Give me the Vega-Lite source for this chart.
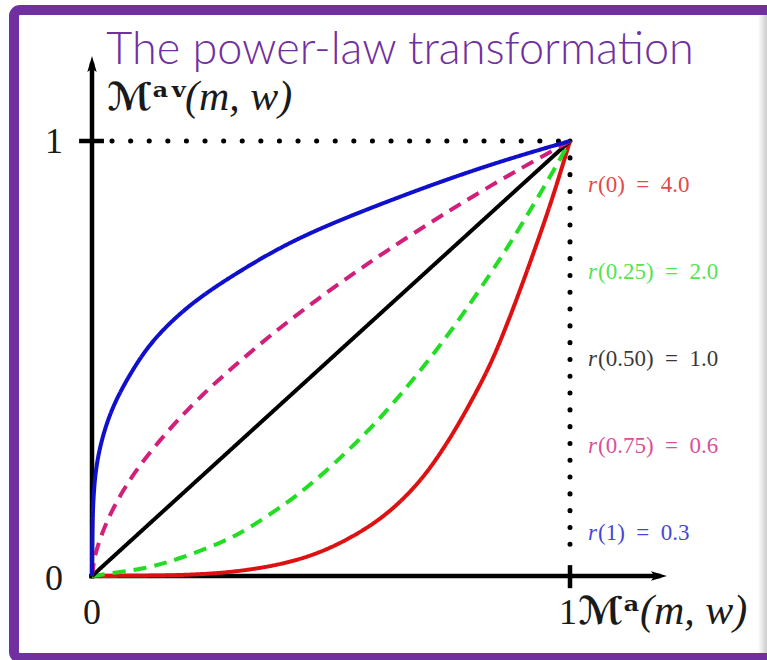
{
  "$schema": "https://vega.github.io/schema/vega-lite/v6.json",
  "width": 767,
  "height": 660,
  "autosize": {"type": "fit", "contains": "padding"},
  "padding": 0,
  "background": "white",
  "config": {"view": {"stroke": null}},
  "encoding": {
    "x": {"field": "x", "type": "quantitative", "scale": {"domain": [-0.192469, 1.412134], "nice": false, "zero": false}, "axis": null},
    "y": {"field": "y", "type": "quantitative", "scale": {"domain": [-0.193103, 1.324138], "nice": false, "zero": false}, "axis": null}
  },
  "layer": [
    {
      "data": {"values": [{"x": 1.3933, "x2": 1.4121, "y": 1.2897, "y2": -0.1816}]},
      "mark": {"type": "rect", "fill": {"gradient": "linear", "x1": 0, "y1": 0, "x2": 1, "y2": 0, "stops": [{"offset": 0, "color": "#ffffff"}, {"offset": 1, "color": "#cccccc"}]}},
      "encoding": {"x2": {"field": "x2"}, "y2": {"field": "y2"}}
    },
    {
      "data": {"values": [{"x": -0.16318, "x2": 1.6, "y": 1.30115, "y2": -0.18851}]},
      "mark": {"type": "rect", "filled": false, "stroke": "#7030A0", "strokeWidth": 10, "cornerRadius": 6, "clip": true},
      "encoding": {"x2": {"field": "x2"}, "y2": {"field": "y2"}}
    },
    {
      "data": {"values": [{"x": 0.0418, "x2": 1, "y": 1, "y2": 1}]},
      "mark": {"type": "rule", "color": "black", "strokeWidth": 5, "strokeCap": "round", "strokeDash": [0.1, 18.5]},
      "encoding": {"x2": {"field": "x2"}, "y2": {"field": "y2"}}
    },
    {
      "data": {"values": [{"x": 1, "x2": 1, "y": 1, "y2": 0.04}]},
      "mark": {"type": "rule", "color": "black", "strokeWidth": 5, "strokeCap": "round", "strokeDash": [0.1, 16.7]},
      "encoding": {"x2": {"field": "x2"}, "y2": {"field": "y2"}}
    },
    {
      "data": {"values": [
        {"x": 0, "x2": 0, "y": -0.006, "y2": 1.18},
        {"x": -0.006, "x2": 1.19, "y": 0, "y2": 0},
        {"x": -0.027, "x2": 0.025, "y": 1, "y2": 1},
        {"x": 1, "x2": 1, "y": 0.025, "y2": -0.028}
      ]},
      "mark": {"type": "rule", "color": "black", "strokeWidth": 4.5},
      "encoding": {"x2": {"field": "x2"}, "y2": {"field": "y2"}}
    },
    {
      "data": {"values": [{"x": 0, "y": 1.1738}]},
      "mark": {"type": "point", "filled": true, "color": "black", "opacity": 1, "size": 350, "shape": "M0,-1L0.5,0.7L0,0.35L-0.5,0.7Z"}
    },
    {
      "data": {"values": [{"x": 1.1833, "y": 0}]},
      "mark": {"type": "point", "filled": true, "color": "black", "opacity": 1, "size": 350, "angle": 90, "shape": "M0,-1L0.5,0.7L0,0.35L-0.5,0.7Z"}
    },
    {
      "data": {"values": [
        {"s": "r4", "x": 0, "y": 0}, {"s": "r4", "x": 0.1, "y": 0.0005}, {"s": "r4", "x": 0.2, "y": 0.002}, {"s": "r4", "x": 0.3, "y": 0.009},
        {"s": "r4", "x": 0.4, "y": 0.027}, {"s": "r4", "x": 0.477, "y": 0.053}, {"s": "r4", "x": 0.546, "y": 0.09}, {"s": "r4", "x": 0.617, "y": 0.14},
        {"s": "r4", "x": 0.686, "y": 0.215}, {"s": "r4", "x": 0.734, "y": 0.29}, {"s": "r4", "x": 0.77, "y": 0.355}, {"s": "r4", "x": 0.805, "y": 0.425},
        {"s": "r4", "x": 0.833, "y": 0.485}, {"s": "r4", "x": 0.86, "y": 0.555}, {"s": "r4", "x": 0.895, "y": 0.655}, {"s": "r4", "x": 0.931, "y": 0.765},
        {"s": "r4", "x": 0.964, "y": 0.87}, {"s": "r4", "x": 1, "y": 1},
        {"s": "r2", "x": 0, "y": 0}, {"s": "r2", "x": 0.017, "y": 0.003}, {"s": "r2", "x": 0.115, "y": 0.017}, {"s": "r2", "x": 0.184, "y": 0.04},
        {"s": "r2", "x": 0.274, "y": 0.078}, {"s": "r2", "x": 0.324, "y": 0.106}, {"s": "r2", "x": 0.408, "y": 0.168}, {"s": "r2", "x": 0.462, "y": 0.214},
        {"s": "r2", "x": 0.533, "y": 0.285}, {"s": "r2", "x": 0.575, "y": 0.331}, {"s": "r2", "x": 0.609, "y": 0.371}, {"s": "r2", "x": 0.644, "y": 0.415},
        {"s": "r2", "x": 0.672, "y": 0.452}, {"s": "r2", "x": 0.707, "y": 0.5}, {"s": "r2", "x": 0.743, "y": 0.552}, {"s": "r2", "x": 0.776, "y": 0.602},
        {"s": "r2", "x": 0.833, "y": 0.694}, {"s": "r2", "x": 0.868, "y": 0.753}, {"s": "r2", "x": 0.902, "y": 0.814}, {"s": "r2", "x": 0.937, "y": 0.878},
        {"s": "r2", "x": 0.979, "y": 0.958}, {"s": "r2", "x": 1, "y": 1},
        {"s": "r1", "x": 0, "y": 0}, {"s": "r1", "x": 1, "y": 1},
        {"s": "r06", "x": 0, "y": 0}, {"s": "r06", "x": 0.004, "y": 0.035}, {"s": "r06", "x": 0.01, "y": 0.064}, {"s": "r06", "x": 0.031, "y": 0.128},
        {"s": "r06", "x": 0.065, "y": 0.198}, {"s": "r06", "x": 0.1, "y": 0.255}, {"s": "r06", "x": 0.142, "y": 0.312}, {"s": "r06", "x": 0.184, "y": 0.364},
        {"s": "r06", "x": 0.232, "y": 0.418}, {"s": "r06", "x": 0.282, "y": 0.468}, {"s": "r06", "x": 0.366, "y": 0.547}, {"s": "r06", "x": 0.45, "y": 0.619},
        {"s": "r06", "x": 0.546, "y": 0.695}, {"s": "r06", "x": 0.617, "y": 0.748}, {"s": "r06", "x": 0.707, "y": 0.812},
        {"s": "r06", "x": 0.776, "y": 0.859}, {"s": "r06", "x": 0.854, "y": 0.91}, {"s": "r06", "x": 0.923, "y": 0.953}, {"s": "r06", "x": 1, "y": 1},
        {"s": "r03", "x": 0, "y": 0}, {"s": "r03", "x": 0.0005, "y": 0.09}, {"s": "r03", "x": 0.002, "y": 0.16}, {"s": "r03", "x": 0.006, "y": 0.23},
        {"s": "r03", "x": 0.015, "y": 0.29}, {"s": "r03", "x": 0.03, "y": 0.35}, {"s": "r03", "x": 0.05, "y": 0.405}, {"s": "r03", "x": 0.08, "y": 0.465},
        {"s": "r03", "x": 0.115, "y": 0.525}, {"s": "r03", "x": 0.16, "y": 0.58}, {"s": "r03", "x": 0.22, "y": 0.637}, {"s": "r03", "x": 0.3, "y": 0.695},
        {"s": "r03", "x": 0.4, "y": 0.76}, {"s": "r03", "x": 0.5, "y": 0.81}, {"s": "r03", "x": 0.62, "y": 0.862}, {"s": "r03", "x": 0.75, "y": 0.915},
        {"s": "r03", "x": 0.88, "y": 0.962}, {"s": "r03", "x": 1, "y": 1}
      ]},
      "mark": {"type": "line", "strokeWidth": 4, "interpolate": "basis"},
      "encoding": {
        "color": {"field": "s", "type": "nominal", "scale": {"domain": ["r4", "r2", "r1", "r06", "r03"], "range": ["#dd1111", "#22dd22", "#000000", "#d0207a", "#1010cc"]}, "legend": null},
        "strokeDash": {"field": "s", "type": "nominal", "scale": {"domain": ["r4", "r2", "r1", "r06", "r03"], "range": [[1, 0], [13, 8], [1, 0], [13, 8], [1, 0]]}, "legend": null}
      }
    },
    {
      "data": {"values": [
        {"s": "r4", "t": "(0)\u2002=\u20024.0", "x": 1.0377, "y": 0.9},
        {"s": "r2", "t": "(0.25)\u2002=\u20022.0", "x": 1.0377, "y": 0.7},
        {"s": "r1", "t": "(0.50)\u2002=\u20021.0", "x": 1.0377, "y": 0.5},
        {"s": "r06", "t": "(0.75)\u2002=\u20020.6", "x": 1.0377, "y": 0.3},
        {"s": "r03", "t": "(1)\u2002=\u20020.3", "x": 1.0377, "y": 0.1}
      ]},
      "layer": [
        {
          "mark": {"type": "text", "text": "r", "font": "Liberation Serif", "fontStyle": "italic", "fontSize": 23, "align": "left", "baseline": "middle", "opacity": 0.78}
        },
        {
          "mark": {"type": "text", "dx": 10, "font": "Liberation Serif", "fontSize": 23, "align": "left", "baseline": "middle", "opacity": 0.78},
          "encoding": {"text": {"field": "t"}}
        }
      ],
      "encoding": {"color": {"field": "s", "type": "nominal", "legend": null}}
    },
    {
      "data": {"values": [{"t": "The power-law transformation", "x": 0.6444, "y": 1.177}]},
      "mark": {"type": "text", "font": "Lato", "fontWeight": 300, "fontSize": 45, "color": "#7030A0", "align": "center", "baseline": "alphabetic"},
      "encoding": {"text": {"field": "t"}}
    },
    {
      "data": {"values": [
        {"t": "1", "x": -0.0795, "y": 0.9724},
        {"t": "0", "x": -0.0795, "y": -0.0322},
        {"t": "0", "x": 0, "y": -0.1103},
        {"t": "1", "x": 0.9958, "y": -0.1103}
      ]},
      "mark": {"type": "text", "font": "Liberation Serif", "fontSize": 36, "color": "#1a1a1a", "align": "center", "baseline": "alphabetic"},
      "encoding": {"text": {"field": "t"}}
    },
    {
      "data": {"values": [
        {"t": "ℳᵃᵛ", "x": 0.0314, "y": 1.0713},
        {"t": "ℳᵃ", "x": 1.0167, "y": -0.1103}
      ]},
      "mark": {"type": "text", "font": "DejaVu Serif, DejaVu Sans", "fontWeight": "bold", "fontSize": 38, "color": "#1a1a1a", "align": "left", "baseline": "alphabetic"},
      "encoding": {"text": {"field": "t"}}
    },
    {
      "data": {"values": [
        {"t": "(m, w)", "x": 0.1946, "y": 1.0713},
        {"t": "(m, w)", "x": 1.1464, "y": -0.1103}
      ]},
      "mark": {"type": "text", "font": "Liberation Serif", "fontStyle": "italic", "fontSize": 42, "color": "#1a1a1a", "align": "left", "baseline": "alphabetic"},
      "encoding": {"text": {"field": "t"}}
    }
  ]
}
